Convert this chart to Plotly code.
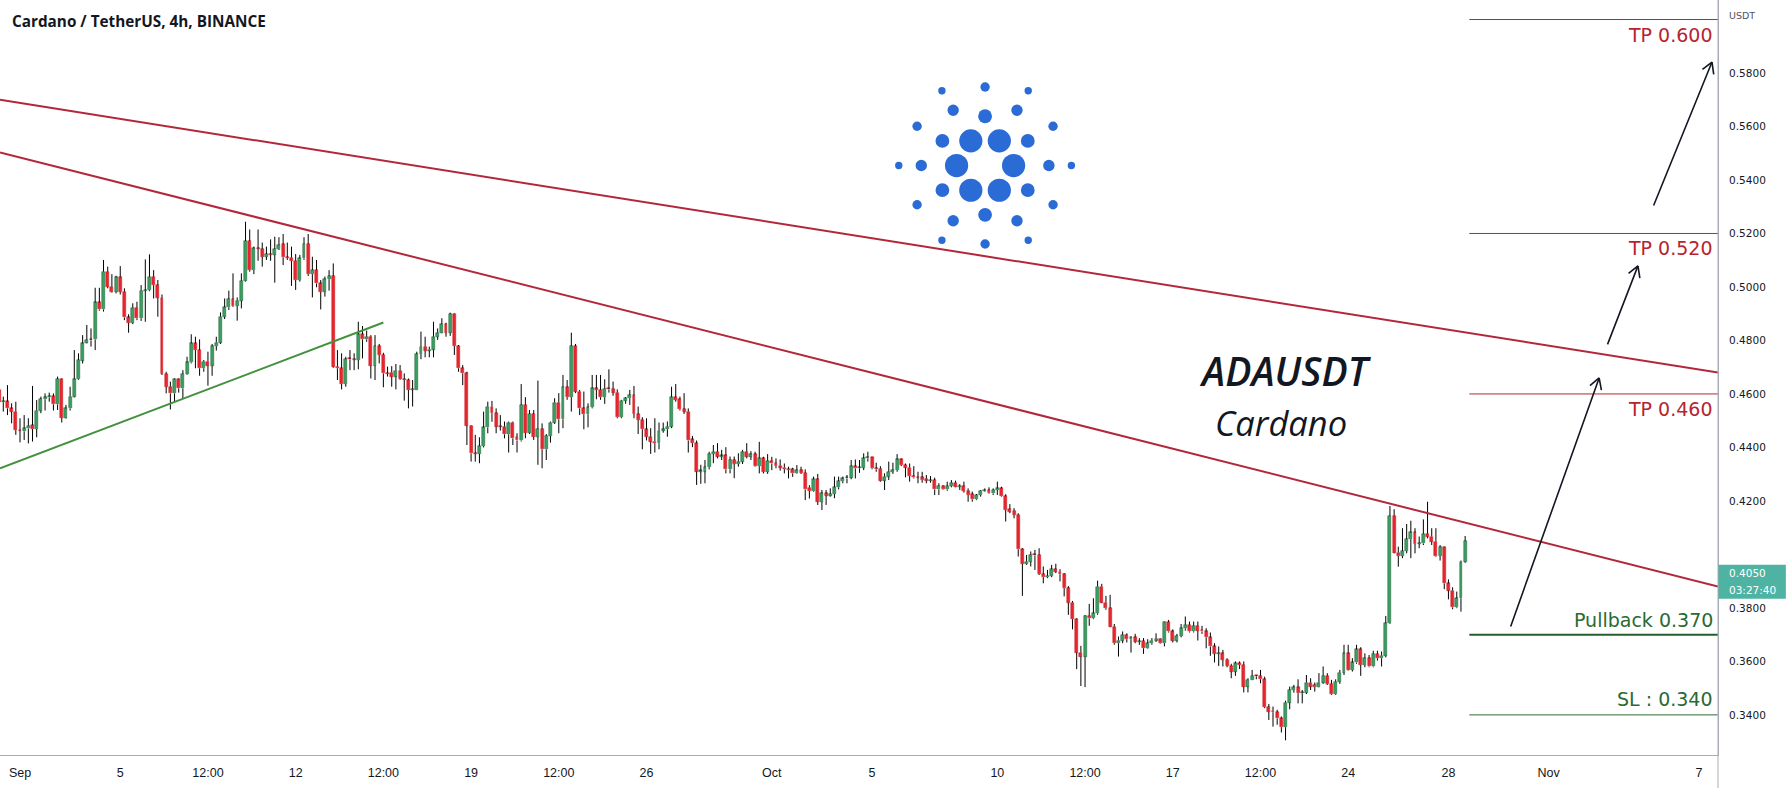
import math
import pandas as pd
import plotly.graph_objects as go

# ---------------- data (ADA/USDT 4h) ----------------
START = "2022-08-31 04:00"
STEP = "4h"

OPEN = [
    .4615,.4569,.4572,.4546,.4534,.4465,.4460,.4471,.4483,.4469,
    .4538,.4580,.4587,.4591,.4561,.4656,.4511,.4546,.4590,.4655,
    .4725,.4792,.4802,.4804,.4942,.4916,.5057,.5001,.4982,.5036,
    .4982,.4886,.4866,.4922,.4883,.4986,.4988,.5038,.5007,.4960,
    .4675,.4627,.4602,.4655,.4621,.4675,.4718,.4789,.4764,.4696,
    .4721,.4706,.4779,.4792,.4889,.4924,.4955,.4929,.4949,.5023,
    .5172,.5063,.5144,.5142,.5113,.5123,.5121,.5142,.5160,.5111,
    .5110,.5098,.5026,.5107,.5161,.5048,.5063,.5013,.4982,.5029,
    .5041,.4702,.4696,.4637,.4730,.4729,.4727,.4823,.4804,.4814,
    .4706,.4779,.4746,.4677,.4680,.4665,.4687,.4655,.4652,.4615,
    .4615,.4749,.4777,.4762,.4766,.4814,.4829,.4861,.4829,.4899,
    .4779,.4696,.4677,.4482,.4378,.4376,.4405,.4475,.4553,.4528,
    .4478,.4478,.4449,.4493,.4440,.4426,.4559,.4455,.4525,.4440,
    .4469,.4393,.4443,.4493,.4568,.4505,.4625,.4588,.4779,.4609,
    .4546,.4524,.4550,.4621,.4615,.4588,.4619,.4619,.4605,.4513,
    .4575,.4584,.4596,.4525,.4503,.4468,.4440,.4422,.4416,.4463,
    .4468,.4478,.4588,.4580,.4543,.4534,.4430,.4416,.4310,.4310,
    .4326,.4376,.4384,.4366,.4370,.4318,.4353,.4338,.4347,.4384,
    .4366,.4374,.4330,.4359,.4309,.4350,.4342,.4332,.4325,.4319,
    .4318,.4303,.4315,.4305,.4250,.4237,.4281,.4197,.4228,.4220,
    .4226,.4251,.4274,.4284,.4287,.4330,.4322,.4324,.4359,.4363,
    .4322,.4320,.4276,.4291,.4309,.4315,.4355,.4334,.4325,.4293,
    .4288,.4288,.4283,.4276,.4278,.4243,.4256,.4243,.4256,.4268,
    .4253,.4255,.4238,.4225,.4206,.4222,.4238,.4240,.4228,.4241,
    .4247,.4218,.4169,.4163,.4148,.4019,.3965,.3973,.3998,.3998,
    .3927,.3915,.3920,.3945,.3936,.3926,.3874,.3820,.3758,.3633,
    .3618,.3770,.3761,.3780,.3880,.3820,.3799,.3730,.3668,.3678,
    .3699,.3683,.3690,.3674,.3676,.3649,.3668,.3678,.3685,.3668,
    .3747,.3712,.3678,.3695,.3724,.3737,.3712,.3733,.3718,.3712,
    .3690,.3656,.3628,.3630,.3606,.3583,.3562,.3593,.3587,.3506,
    .3531,.3546,.3546,.3533,.3429,.3416,.3410,.3387,.3354,.3446,
    .3493,.3503,.3481,.3483,.3521,.3512,.3504,.3521,.3546,.3516,
    .3478,.3524,.3558,.3630,.3568,.3596,.3645,.3587,.3612,.3581,
    .3628,.3612,.3622,.3743,.4144,.4007,.3994,.4013,.4057,.4082,
    .4039,.4041,.4077,.4067,.4048,.3994,.4027,.3892,.3865,.3802,
    .3836,.3973,
]
HIGH = [
    .4633,.4590,.4633,.4565,.4571,.4509,.4521,.4509,.4630,.4577,
    .4590,.4602,.4605,.4602,.4665,.4658,.4559,.4627,.4764,.4752,
    .4820,.4858,.4845,.4997,.4997,.5101,.5076,.5048,.5042,.5078,
    .4995,.4898,.4939,.4945,.5007,.5103,.5122,.5063,.5026,.4972,
    .4683,.4646,.4658,.4658,.4689,.4739,.4823,.4814,.4804,.4727,
    .4758,.4787,.4814,.4905,.4957,.4986,.5051,.4961,.5051,.5244,
    .5215,.5151,.5215,.5166,.5151,.5178,.5188,.5186,.5198,.5166,
    .5151,.5123,.5120,.5186,.5198,.5113,.5101,.5026,.5039,.5063,
    .5088,.4764,.4752,.4739,.4764,.4752,.4870,.4854,.4837,.4820,
    .4820,.4787,.4754,.4702,.4704,.4712,.4708,.4677,.4658,.4652,
    .4758,.4833,.4814,.4777,.4870,.4845,.4883,.4866,.4904,.4901,
    .4783,.4708,.4683,.4484,.4447,.4438,.4534,.4571,.4574,.4546,
    .4521,.4497,.4497,.4497,.4453,.4637,.4588,.4540,.4540,.4650,
    .4490,.4450,.4497,.4584,.4603,.4671,.4652,.4829,.4787,.4615,
    .4609,.4565,.4671,.4671,.4671,.4655,.4692,.4646,.4617,.4578,
    .4588,.4615,.4630,.4553,.4513,.4509,.4472,.4509,.4493,.4493,
    .4497,.4627,.4637,.4590,.4603,.4546,.4443,.4426,.4335,.4353,
    .4384,.4409,.4416,.4391,.4401,.4366,.4366,.4378,.4391,.4416,
    .4386,.4384,.4421,.4365,.4375,.4365,.4359,.4355,.4340,.4328,
    .4324,.4334,.4328,.4318,.4259,.4291,.4301,.4241,.4241,.4247,
    .4291,.4291,.4291,.4297,.4353,.4355,.4353,.4378,.4384,.4365,
    .4343,.4330,.4303,.4347,.4343,.4375,.4359,.4340,.4340,.4330,
    .4309,.4309,.4297,.4293,.4287,.4266,.4259,.4272,.4278,.4276,
    .4263,.4272,.4247,.4235,.4226,.4241,.4247,.4251,.4247,.4272,
    .4253,.4225,.4188,.4173,.4154,.4023,.3998,.4011,.4017,.4023,
    .3955,.3942,.3961,.3965,.3945,.3930,.3882,.3826,.3761,.3658,
    .3773,.3815,.3836,.3902,.3890,.3845,.3849,.3740,.3693,.3712,
    .3705,.3693,.3703,.3687,.3687,.3683,.3687,.3705,.3687,.3749,
    .3755,.3720,.3703,.3740,.3768,.3749,.3749,.3749,.3733,.3724,
    .3708,.3668,.3656,.3643,.3612,.3591,.3600,.3600,.3600,.3537,
    .3568,.3549,.3568,.3543,.3441,.3431,.3419,.3394,.3453,.3506,
    .3512,.3533,.3493,.3549,.3537,.3521,.3556,.3581,.3556,.3531,
    .3533,.3568,.3662,.3662,.3612,.3662,.3653,.3630,.3624,.3640,
    .3640,.3637,.3770,.4181,.4169,.4029,.4098,.4114,.4126,.4098,
    .4067,.4131,.4197,.4098,.4098,.4035,.4029,.3907,.3877,.3861,
    .3977,.4069,
]
LOW = [
    .4562,.4534,.4521,.4490,.4447,.4419,.4428,.4415,.4422,.4438,
    .4528,.4538,.4571,.4538,.4540,.4493,.4508,.4538,.4587,.4652,
    .4714,.4789,.4777,.4764,.4911,.4908,.4995,.4979,.4976,.4972,
    .4876,.4829,.4861,.4876,.4873,.4870,.4984,.4957,.4889,.4671,
    .4602,.4542,.4571,.4605,.4584,.4672,.4714,.4696,.4668,.4683,
    .4631,.4668,.4762,.4787,.4880,.4914,.4926,.4874,.4920,.5020,
    .5057,.5048,.5098,.5076,.5101,.5098,.5016,.5138,.5082,.5101,
    .5004,.4989,.5020,.5101,.5041,.4961,.4999,.4916,.4964,.4986,
    .4698,.4652,.4617,.4627,.4689,.4689,.4692,.4733,.4795,.4658,
    .4652,.4714,.4625,.4665,.4627,.4617,.4652,.4575,.4546,.4553,
    .4615,.4730,.4737,.4737,.4737,.4802,.4827,.4814,.4817,.4746,
    .4683,.4633,.4409,.4347,.4347,.4341,.4400,.4453,.4496,.4453,
    .4463,.4434,.4381,.4409,.4381,.4422,.4434,.4450,.4428,.4335,
    .4322,.4353,.4418,.4488,.4453,.4472,.4578,.4534,.4603,.4521,
    .4468,.4475,.4546,.4580,.4578,.4563,.4605,.4593,.4509,.4509,
    .4563,.4559,.4509,.4450,.4393,.4426,.4376,.4381,.4393,.4455,
    .4440,.4472,.4571,.4538,.4525,.4381,.4401,.4260,.4264,.4266,
    .4318,.4341,.4359,.4353,.4303,.4303,.4285,.4328,.4338,.4359,
    .4353,.4328,.4303,.4303,.4301,.4315,.4322,.4313,.4303,.4284,
    .4290,.4301,.4301,.4203,.4209,.4235,.4185,.4166,.4185,.4216,
    .4210,.4243,.4266,.4266,.4281,.4284,.4305,.4315,.4347,.4318,
    .4309,.4272,.4241,.4278,.4301,.4309,.4330,.4288,.4272,.4284,
    .4266,.4268,.4266,.4268,.4222,.4222,.4241,.4238,.4251,.4251,
    .4241,.4231,.4197,.4197,.4203,.4216,.4235,.4226,.4222,.4222,
    .4216,.4123,.4154,.4135,.3992,.3845,.3961,.3955,.3942,.3923,
    .3892,.3911,.3915,.3930,.3899,.3843,.3774,.3720,.3571,.3508,
    .3504,.3733,.3758,.3774,.3818,.3793,.3728,.3662,.3618,.3668,
    .3671,.3633,.3668,.3662,.3628,.3647,.3662,.3673,.3666,.3656,
    .3708,.3671,.3671,.3690,.3715,.3708,.3708,.3678,.3703,.3649,
    .3621,.3596,.3583,.3581,.3578,.3537,.3546,.3571,.3484,.3484,
    .3531,.3533,.3518,.3425,.3381,.3356,.3363,.3334,.3305,.3421,
    .3483,.3443,.3443,.3478,.3493,.3487,.3503,.3516,.3512,.3475,
    .3475,.3516,.3549,.3566,.3562,.3591,.3546,.3578,.3578,.3578,
    .3603,.3581,.3615,.3740,.4004,.3954,.3986,.4004,.3986,.4004,
    .4023,.4035,.4060,.4035,.3992,.3977,.3870,.3832,.3795,.3799,
    .3786,.3969,
]
CLOSE = [
    .4569,.4572,.4546,.4534,.4465,.4463,.4471,.4481,.4469,.4538,
    .4581,.4587,.4591,.4561,.4656,.4511,.4546,.4590,.4655,.4727,
    .4789,.4802,.4800,.4942,.4916,.5057,.5001,.4982,.5036,.4982,
    .4886,.4866,.4922,.4883,.4986,.4988,.5038,.5007,.4960,.4675,
    .4627,.4602,.4655,.4621,.4675,.4718,.4789,.4764,.4696,.4721,
    .4706,.4779,.4792,.4889,.4924,.4955,.4929,.4949,.5023,.5172,
    .5063,.5144,.5142,.5113,.5123,.5121,.5142,.5157,.5111,.5108,
    .5098,.5026,.5107,.5161,.5048,.5063,.5013,.4982,.5029,.5041,
    .4702,.4696,.4637,.4730,.4729,.4727,.4823,.4804,.4814,.4706,
    .4779,.4746,.4677,.4675,.4665,.4687,.4655,.4652,.4615,.4617,
    .4749,.4777,.4762,.4766,.4814,.4829,.4861,.4829,.4899,.4779,
    .4696,.4677,.4482,.4378,.4376,.4405,.4475,.4553,.4528,.4478,
    .4477,.4449,.4493,.4434,.4426,.4559,.4455,.4525,.4440,.4469,
    .4393,.4443,.4493,.4568,.4505,.4625,.4588,.4779,.4609,.4546,
    .4524,.4550,.4621,.4615,.4588,.4619,.4617,.4605,.4513,.4575,
    .4584,.4596,.4525,.4503,.4468,.4440,.4422,.4416,.4463,.4468,
    .4478,.4588,.4578,.4543,.4534,.4426,.4416,.4310,.4312,.4326,
    .4376,.4384,.4366,.4368,.4318,.4353,.4338,.4347,.4384,.4366,
    .4374,.4330,.4359,.4309,.4350,.4340,.4330,.4325,.4319,.4315,
    .4303,.4315,.4305,.4243,.4237,.4281,.4197,.4228,.4220,.4226,
    .4251,.4274,.4284,.4287,.4330,.4322,.4324,.4359,.4363,.4322,
    .4318,.4276,.4291,.4309,.4315,.4355,.4334,.4325,.4293,.4288,
    .4286,.4278,.4276,.4278,.4243,.4256,.4243,.4256,.4268,.4253,
    .4255,.4238,.4222,.4206,.4222,.4238,.4240,.4228,.4241,.4247,
    .4218,.4166,.4160,.4148,.4019,.3965,.3973,.3998,.3996,.3927,
    .3915,.3920,.3945,.3936,.3926,.3874,.3820,.3758,.3633,.3618,
    .3770,.3761,.3780,.3880,.3820,.3799,.3730,.3668,.3678,.3699,
    .3683,.3690,.3674,.3676,.3649,.3668,.3678,.3685,.3668,.3747,
    .3712,.3678,.3695,.3724,.3737,.3712,.3733,.3715,.3712,.3690,
    .3656,.3628,.3630,.3606,.3583,.3562,.3593,.3587,.3506,.3531,
    .3546,.3544,.3533,.3429,.3412,.3410,.3387,.3354,.3446,.3493,
    .3503,.3481,.3483,.3521,.3506,.3504,.3521,.3546,.3516,.3478,
    .3524,.3558,.3630,.3568,.3596,.3645,.3587,.3612,.3581,.3628,
    .3612,.3622,.3743,.4144,.4007,.3994,.4013,.4057,.4082,.4039,
    .4041,.4077,.4067,.4048,.3994,.4027,.3892,.3865,.3802,.3836,
    .3973,.4050,
]

LAST_PRICE = 0.4050
COUNTDOWN = "03:27:40"

# axes
X_RANGE = ["2022-08-31 04:51", "2022-11-07 18:10"]
Y_RANGE = [0.3250, 0.6073]
TICK_DATES = ["2022-09-01", "2022-09-05", "2022-09-08 12:00", "2022-09-12",
              "2022-09-15 12:00", "2022-09-19", "2022-09-22 12:00", "2022-09-26",
              "2022-10-01", "2022-10-05", "2022-10-10", "2022-10-13 12:00",
              "2022-10-17", "2022-10-20 12:00", "2022-10-24", "2022-10-28",
              "2022-11-01", "2022-11-07"]
TICK_TEXT = ["Sep", "5", "12:00", "12", "12:00", "19", "12:00", "26", "Oct", "5",
             "10", "12:00", "17", "12:00", "24", "28", "Nov", "7"]
PRICE_TICKS = [0.34, 0.36, 0.38, 0.42, 0.44, 0.46, 0.48, 0.50, 0.52, 0.54, 0.56, 0.58]

# drawings (time, price)
TRENDLINES = [
    dict(t0=X_RANGE[0], p0=0.5700, t1=X_RANGE[1], p1=0.4680, color="#b2283a"),
    dict(t0=X_RANGE[0], p0=0.5503, t1=X_RANGE[1], p1=0.3880, color="#b2283a"),
    dict(t0=X_RANGE[0], p0=0.4322, t1="2022-09-15 12:00", p1=0.4867, color="#43903d"),
]
LEVEL_START = "2022-10-28 20:00"
LEVEL_LABELS = ["TP 0.600", "TP 0.520", "TP 0.460", "Pullback 0.370", "SL : 0.340"]
LEVEL_PRICES = [0.600, 0.520, 0.460, 0.370, 0.340]
LEVEL_KIND = ["tp", "tp", "tp", "pull", "sl"]

# arrows: tip (time, price) and tail offset in pixels
ARROWS = [
    ("2022-11-03 00:20", 0.4660, -89, 250),
    ("2022-11-04 13:30", 0.5079, -31, 80),
    ("2022-11-07 12:25", 0.5841, -59, 145),
]

LOGO_CENTER = ("2022-10-09 12:15", 0.5454)
LOGO_RINGS = [(28.5, 11.6, 0), (49.3, 6.9, 30), (63.8, 5.7, 0), (78.5, 4.7, 30), (86.3, 3.7, 0)]

# price tag box (price range) and its two text rows
TAG_BOX = (0.3834, 0.3961)
TAG_ROWS = (0.3931, 0.3867)

# ---------------- style ----------------
UP_FILL, UP_EDGE = "#3d9e63", "#1f5e37"
DN_FILL, DN_EDGE = "#e8262d", "#c81e26"
WICK = "#000000"
TP_LINE, TP_TEXT = "#b22833", "#b8232f"
GR_LINE, GR_TEXT = "#245c2c", "#2a6a33"
AXIS_LINE = "#a9acb4"
TEXT = "#131722"

n = min(len(OPEN), len(HIGH), len(LOW), len(CLOSE))
times = list(pd.date_range(START, periods=n, freq=STEP))

fig = go.Figure()

# wicks (upper and lower parts, so bodies are not crossed)
wx, wy = [], []
for i in range(n):
    top = max(OPEN[i], CLOSE[i])
    bot = min(OPEN[i], CLOSE[i])
    t = times[i]
    if HIGH[i] > top:
        wx += [t, t, None]
        wy += [top, HIGH[i], None]
    if LOW[i] < bot:
        wx += [t, t, None]
        wy += [LOW[i], bot, None]
fig.add_trace(go.Scatter(x=wx, y=wy, mode="lines", line=dict(color=WICK, width=1),
                         hoverinfo="skip", showlegend=False))

BAR_W = 0.7 * 4 * 3600 * 1000
MIN_H = 0.0004
for up, fill, edge in ((True, UP_FILL, UP_EDGE), (False, DN_FILL, DN_EDGE)):
    bx, bb, bh = [], [], []
    for i in range(n):
        if (CLOSE[i] >= OPEN[i]) == up:
            bx.append(times[i])
            bb.append(min(OPEN[i], CLOSE[i]))
            bh.append(max(abs(CLOSE[i] - OPEN[i]), MIN_H))
    fig.add_trace(go.Bar(x=bx, y=bh, base=bb, width=BAR_W,
                         marker=dict(color=fill, line=dict(color=edge, width=0.5)),
                         hoverinfo="skip", showlegend=False))

def py(price):
    return (price - Y_RANGE[0]) / (Y_RANGE[1] - Y_RANGE[0])

shapes = []
for tl in TRENDLINES:
    shapes.append(dict(type="line", xref="x", yref="y", x0=tl["t0"], y0=tl["p0"],
                       x1=tl["t1"], y1=tl["p1"], line=dict(color=tl["color"], width=2)))

annotations = []
for label, price, kind in zip(LEVEL_LABELS, LEVEL_PRICES, LEVEL_KIND):
    if kind == "tp":
        lc, tc, lw, shift = TP_LINE, TP_TEXT, 1, -15
    elif kind == "pull":
        lc, tc, lw, shift = GR_LINE, GR_TEXT, 2, 15
    else:
        lc, tc, lw, shift = "#2e6b35", GR_TEXT, 1, 16
    shapes.append(dict(type="line", xref="x", yref="y", x0=LEVEL_START, x1=X_RANGE[1],
                       y0=price, y1=price, line=dict(color=lc, width=lw)))
    annotations.append(dict(xref="paper", yref="y", x=0.9980, y=price, yshift=shift,
                            xanchor="right", yanchor="middle", showarrow=False, text=label,
                            font=dict(family="DejaVu Sans", size=19, color=tc)))

# Cardano logo
for dist, r, a0 in LOGO_RINGS:
    for k in range(6):
        ang = math.radians(a0 + 60 * k)
        dx, dy = dist * math.cos(ang), dist * math.sin(ang)
        shapes.append(dict(type="circle", xref="x", yref="y", xsizemode="pixel", ysizemode="pixel",
                           xanchor=LOGO_CENTER[0], yanchor=LOGO_CENTER[1],
                           x0=dx - r, x1=dx + r, y0=dy - r, y1=dy + r,
                           fillcolor="#2a6bd5", line=dict(width=0)))

# price tag + right separator
shapes.append(dict(type="rect", xref="paper", yref="paper", x0=1.0, x1=1.0395,
                   y0=py(TAG_BOX[0]), y1=py(TAG_BOX[1]), fillcolor="#4fb3a4", line=dict(width=0)))
shapes.append(dict(type="line", xref="paper", yref="paper", x0=1, x1=1, y0=-0.0437, y1=1,
                   line=dict(color=AXIS_LINE, width=1)))

annotations.append(dict(xref="paper", yref="paper", x=1.0052, y=py(TAG_ROWS[0]), xanchor="left",
                        yanchor="middle", showarrow=False, text=f"{LAST_PRICE:.4f}",
                        font=dict(family="DejaVu Sans", size=10.5, color="white")))
annotations.append(dict(xref="paper", yref="paper", x=1.0052, y=py(TAG_ROWS[1]), xanchor="left",
                        yanchor="middle", showarrow=False, text=COUNTDOWN,
                        font=dict(family="DejaVu Sans", size=10.5, color="white")))

# arrows with open chevron heads
ARM_LEN, ARM_ANG = 14, math.radians(30)
for t, p, dx, dy in ARROWS:
    annotations.append(dict(x=t, y=p, xref="x", yref="y", ax=dx, ay=dy, text="",
                            showarrow=True, arrowhead=0, arrowwidth=1.6,
                            arrowcolor=TEXT, standoff=0))
    L = math.hypot(dx, dy)
    ux, uy = dx / L, dy / L
    for s in (1, -1):
        a = s * ARM_ANG
        rx = ux * math.cos(a) - uy * math.sin(a)
        ry = ux * math.sin(a) + uy * math.cos(a)
        annotations.append(dict(x=t, y=p, xref="x", yref="y", ax=rx * ARM_LEN, ay=ry * ARM_LEN,
                                text="", showarrow=True, arrowhead=0, arrowwidth=1.6,
                                arrowcolor=TEXT, standoff=0))

# texts
annotations.append(dict(xref="x", yref="y", x="2022-10-21 12:00", y=0.4688, text="ADAUSDT",
                        showarrow=False, xanchor="center", yanchor="middle",
                        font=dict(family="Open Sans", size=39, color=TEXT, style="italic", weight=600)))
annotations.append(dict(xref="x", yref="y", x="2022-10-21 08:00", y=0.4495, text="Cardano",
                        showarrow=False, xanchor="center", yanchor="middle",
                        font=dict(family="Open Sans", size=34.5, color=TEXT, style="italic")))
annotations.append(dict(xref="paper", yref="paper", x=0.0058, y=1 - 20.7 / 755, xanchor="left",
                        yanchor="middle", showarrow=False, text="<b>Cardano / TetherUS, 4h, BINANCE</b>",
                        font=dict(family="Open Sans", size=15.3, color=TEXT)))
annotations.append(dict(xref="paper", yref="paper", x=1.0052, y=1 - 15.7 / 755, xanchor="left",
                        yanchor="middle", showarrow=False, text="USDT",
                        font=dict(family="DejaVu Sans", size=9.5, color="#50535e")))

fig.update_layout(
    width=1787, height=788,
    margin=dict(l=0, r=69, t=0, b=33),
    paper_bgcolor="white", plot_bgcolor="white",
    showlegend=False, barmode="overlay", bargap=0,
    shapes=shapes, annotations=annotations,
    xaxis=dict(type="date", range=X_RANGE, tickvals=TICK_DATES, ticktext=TICK_TEXT,
               showgrid=False, zeroline=False, showline=True, linecolor=AXIS_LINE, linewidth=1,
               ticks="", ticklabelstandoff=6,
               tickfont=dict(family="Liberation Sans", size=12.5, color=TEXT)),
    yaxis=dict(side="right", range=Y_RANGE, tickvals=PRICE_TICKS,
               ticktext=[f"{v:.4f}" for v in PRICE_TICKS],
               showgrid=False, zeroline=False, showline=True, linecolor=AXIS_LINE, linewidth=1,
               ticks="", ticklabelstandoff=8,
               tickfont=dict(family="DejaVu Sans", size=10.5, color=TEXT)),
)

fig.write_html("out.html", config={"displayModeBar": False},
               post_script="document.body.style.margin='0';document.body.style.overflow='hidden';")
